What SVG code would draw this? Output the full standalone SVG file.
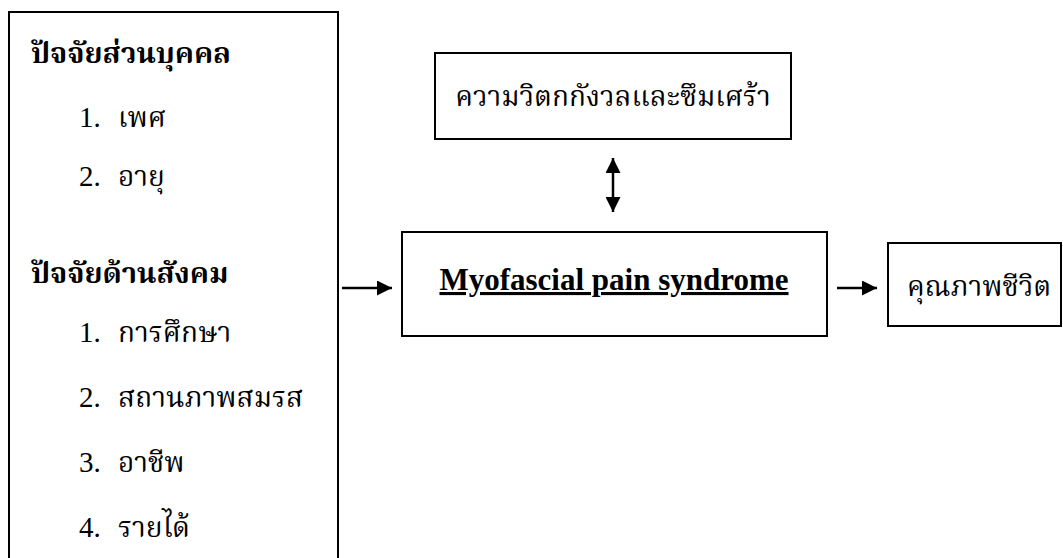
<svg xmlns="http://www.w3.org/2000/svg" width="1063" height="558" viewBox="0 0 1063 558">
<style>
.box{fill:#fff;stroke:#000;stroke-width:2}
.th{font-family:"Noto Serif Thai","Noto Sans Thai","Loma","Garuda","Norasi","Liberation Serif",serif;font-size:28px;fill:#000}
.hd{font-weight:bold;font-size:29px}
.num{font-family:"Liberation Serif",serif;font-size:29px;fill:#000}
.en{font-family:"Liberation Serif",serif;font-size:31px;font-weight:bold;text-decoration:underline;fill:#000}
.ln{stroke:#000;stroke-width:2.5;fill:none}
</style>
<defs>
<marker id="ah" viewBox="0 0 10 10" refX="10" refY="5" markerWidth="6" markerHeight="6" markerUnits="strokeWidth" orient="auto-start-reverse">
<path d="M0,0 L10,5 L0,10 z" fill="#000"/>
</marker>
</defs>
<rect width="1063" height="558" fill="#fff"/>
<g id="factors">
<rect class="box" x="9" y="12" width="329" height="560"/>
<text class="th hd" x="31" y="63">ปัจจัยส่วนบุคคล</text>
<text class="num" x="79" y="127">1.</text><text class="th" x="118" y="127">เพศ</text>
<text class="num" x="79" y="186">2.</text><text class="th" x="118" y="186">อายุ</text>
<text class="th hd" x="31" y="283">ปัจจัยด้านสังคม</text>
<text class="num" x="79" y="342">1.</text><text class="th" x="118" y="342">การศึกษา</text>
<text class="num" x="79" y="407">2.</text><text class="th" x="118" y="407">สถานภาพสมรส</text>
<text class="num" x="79" y="472">3.</text><text class="th" x="118" y="472">อาชีพ</text>
<text class="num" x="79" y="537">4.</text><text class="th" x="118" y="537">รายได้</text>
</g>
<g id="anxiety">
<rect class="box" x="435" y="53" width="356" height="86"/>
<text class="th" x="613" y="106" text-anchor="middle">ความวิตกกังวลและซึมเศร้า</text>
</g>
<g id="mps">
<rect class="box" x="402" y="232" width="425" height="104"/>
<text class="en" x="614" y="290" text-anchor="middle">Myofascial pain syndrome</text>
</g>
<g id="qol">
<rect class="box" x="888" y="243" width="173" height="83"/>
<text class="th" x="907" y="296">คุณภาพชีวิต</text>
</g>
<g id="connectors">
<line class="ln" x1="342" y1="288" x2="392" y2="288" marker-end="url(#ah)"/>
<line class="ln" x1="837" y1="288" x2="877" y2="288" marker-end="url(#ah)"/>
<line class="ln" x1="613" y1="158" x2="613" y2="212" marker-start="url(#ah)" marker-end="url(#ah)"/>
</g>
</svg>
